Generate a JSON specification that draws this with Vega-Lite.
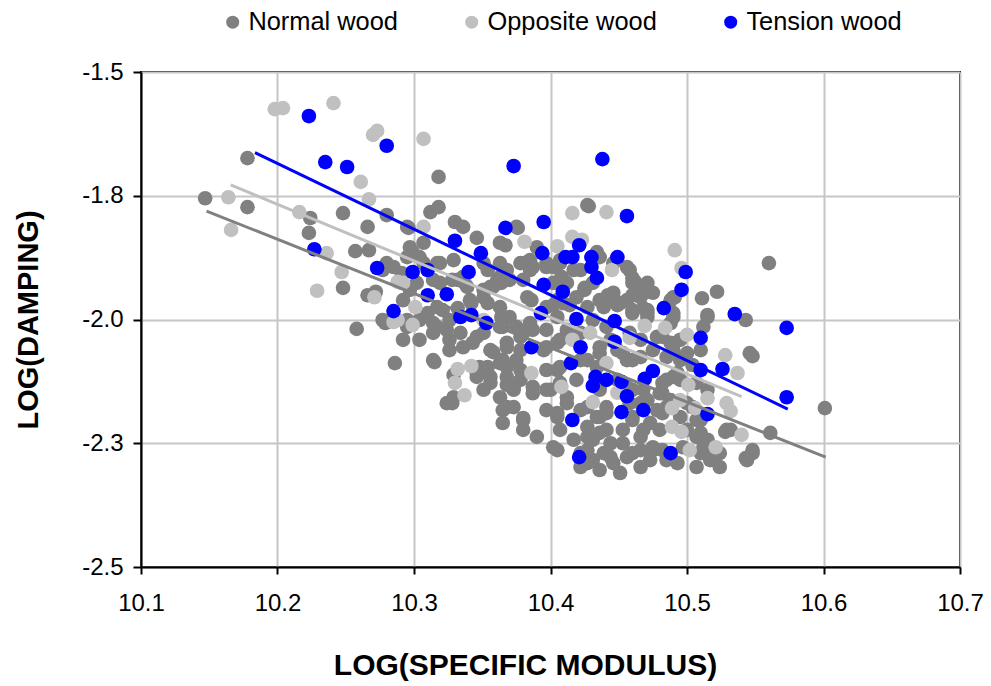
{
  "$schema": "https://vega.github.io/schema/vega-lite/v6.json",
  "width": 819,
  "height": 495,
  "autosize": {"type": "none"},
  "padding": {"left": 141, "top": 72, "right": 31, "bottom": 119},
  "background": "white",
  "config": {
    "font": "Liberation Sans",
    "view": {"stroke": "black", "strokeWidth": 2}
  },
  "datasets": {
    "points": [
      {"wood":"Normal wood","x":10.178,"y":-1.674},{"wood":"Normal wood","x":10.147,"y":-1.755},{"wood":"Normal wood","x":10.178,"y":-1.773},{"wood":"Normal wood","x":10.224,"y":-1.795},{"wood":"Normal wood","x":10.223,"y":-1.825},
      {"wood":"Normal wood","x":10.248,"y":-1.785},{"wood":"Normal wood","x":10.266,"y":-1.813},{"wood":"Normal wood","x":10.280,"y":-1.789},{"wood":"Normal wood","x":10.257,"y":-1.862},{"wood":"Normal wood","x":10.267,"y":-1.860},
      {"wood":"Normal wood","x":10.248,"y":-1.936},{"wood":"Normal wood","x":10.266,"y":-1.951},{"wood":"Normal wood","x":10.272,"y":-1.944},{"wood":"Normal wood","x":10.296,"y":-1.815},{"wood":"Normal wood","x":10.299,"y":-1.864},
      {"wood":"Normal wood","x":10.285,"y":-1.894},{"wood":"Normal wood","x":10.291,"y":-1.906},{"wood":"Normal wood","x":10.277,"y":-1.900},{"wood":"Normal wood","x":10.292,"y":-1.961},{"wood":"Normal wood","x":10.302,"y":-1.926},
      {"wood":"Normal wood","x":10.307,"y":-1.845},{"wood":"Normal wood","x":10.280,"y":-1.886},{"wood":"Normal wood","x":10.297,"y":-1.940},{"wood":"Normal wood","x":10.314,"y":-1.920},{"wood":"Normal wood","x":10.318,"y":-1.712},
      {"wood":"Normal wood","x":10.318,"y":-1.773},{"wood":"Normal wood","x":10.312,"y":-1.783},{"wood":"Normal wood","x":10.330,"y":-1.803},{"wood":"Normal wood","x":10.336,"y":-1.813},{"wood":"Normal wood","x":10.346,"y":-1.835},
      {"wood":"Normal wood","x":10.363,"y":-1.845},{"wood":"Normal wood","x":10.375,"y":-1.813},{"wood":"Normal wood","x":10.383,"y":-1.884},{"wood":"Normal wood","x":10.297,"y":-1.854},{"wood":"Normal wood","x":10.295,"y":-1.813},
      {"wood":"Normal wood","x":10.427,"y":-1.769},{"wood":"Normal wood","x":10.434,"y":-1.864},{"wood":"Normal wood","x":10.446,"y":-1.886},{"wood":"Normal wood","x":10.456,"y":-1.894},{"wood":"Normal wood","x":10.460,"y":-1.916},
      {"wood":"Normal wood","x":10.466,"y":-1.946},{"wood":"Normal wood","x":10.471,"y":-1.944},{"wood":"Normal wood","x":10.425,"y":-1.940},{"wood":"Normal wood","x":10.412,"y":-1.926},{"wood":"Normal wood","x":10.441,"y":-1.961},
      {"wood":"Normal wood","x":10.402,"y":-1.894},{"wood":"Normal wood","x":10.385,"y":-1.900},{"wood":"Normal wood","x":10.351,"y":-1.886},{"wood":"Normal wood","x":10.307,"y":-1.886},{"wood":"Normal wood","x":10.363,"y":-1.914},
      {"wood":"Normal wood","x":10.356,"y":-1.934},{"wood":"Normal wood","x":10.336,"y":-1.914},{"wood":"Normal wood","x":10.342,"y":-1.967},{"wood":"Normal wood","x":10.386,"y":-1.961},{"wood":"Normal wood","x":10.397,"y":-1.886},
      {"wood":"Normal wood","x":10.405,"y":-1.961},{"wood":"Normal wood","x":10.451,"y":-1.967},{"wood":"Normal wood","x":10.471,"y":-1.981},{"wood":"Normal wood","x":10.488,"y":-1.961},{"wood":"Normal wood","x":10.560,"y":-1.886},
      {"wood":"Normal wood","x":10.491,"y":-1.955},{"wood":"Normal wood","x":10.511,"y":-1.957},{"wood":"Normal wood","x":10.522,"y":-1.944},{"wood":"Normal wood","x":10.515,"y":-1.991},{"wood":"Normal wood","x":10.543,"y":-2.001},
      {"wood":"Normal wood","x":10.319,"y":-1.886},{"wood":"Normal wood","x":10.328,"y":-1.920},{"wood":"Normal wood","x":10.337,"y":-1.926},{"wood":"Normal wood","x":10.351,"y":-1.940},{"wood":"Normal wood","x":10.361,"y":-1.920},
      {"wood":"Normal wood","x":10.341,"y":-1.961},{"wood":"Normal wood","x":10.354,"y":-1.967},{"wood":"Normal wood","x":10.363,"y":-1.975},{"wood":"Normal wood","x":10.258,"y":-2.019},{"wood":"Normal wood","x":10.277,"y":-2.001},
      {"wood":"Normal wood","x":10.295,"y":-2.001},{"wood":"Normal wood","x":10.314,"y":-2.007},{"wood":"Normal wood","x":10.326,"y":-2.001},{"wood":"Normal wood","x":10.317,"y":-1.975},{"wood":"Normal wood","x":10.332,"y":-1.977},
      {"wood":"Normal wood","x":10.310,"y":-1.987},{"wood":"Normal wood","x":10.365,"y":-2.015},{"wood":"Normal wood","x":10.286,"y":-2.088},{"wood":"Normal wood","x":10.279,"y":-2.007},{"wood":"Normal wood","x":10.304,"y":-2.041},
      {"wood":"Normal wood","x":10.315,"y":-2.086},{"wood":"Normal wood","x":10.329,"y":-2.112},{"wood":"Normal wood","x":10.328,"y":-2.169},{"wood":"Normal wood","x":10.317,"y":-2.015},{"wood":"Normal wood","x":10.326,"y":-2.041},
      {"wood":"Normal wood","x":10.336,"y":-2.056},{"wood":"Normal wood","x":10.346,"y":-2.035},{"wood":"Normal wood","x":10.348,"y":-2.096},{"wood":"Normal wood","x":10.356,"y":-2.116},{"wood":"Normal wood","x":10.365,"y":-2.082},
      {"wood":"Normal wood","x":10.365,"y":-2.183},{"wood":"Normal wood","x":10.358,"y":-2.066},{"wood":"Normal wood","x":10.346,"y":-2.108},{"wood":"Normal wood","x":10.368,"y":-2.132},
      {"wood":"Normal wood","x":10.295,"y":-1.874},{"wood":"Normal wood","x":10.304,"y":-1.874},{"wood":"Normal wood","x":10.317,"y":-1.886},{"wood":"Normal wood","x":10.329,"y":-1.880},{"wood":"Normal wood","x":10.291,"y":-1.926},
      {"wood":"Normal wood","x":10.319,"y":-1.926},{"wood":"Normal wood","x":10.332,"y":-1.920},{"wood":"Normal wood","x":10.339,"y":-1.934},{"wood":"Normal wood","x":10.354,"y":-1.900},{"wood":"Normal wood","x":10.363,"y":-1.886},
      {"wood":"Normal wood","x":10.370,"y":-1.920},{"wood":"Normal wood","x":10.358,"y":-1.934},{"wood":"Normal wood","x":10.351,"y":-1.955},{"wood":"Normal wood","x":10.378,"y":-1.886},{"wood":"Normal wood","x":10.387,"y":-1.894},
      {"wood":"Normal wood","x":10.383,"y":-1.955},{"wood":"Normal wood","x":10.370,"y":-1.995},{"wood":"Normal wood","x":10.363,"y":-2.015},{"wood":"Normal wood","x":10.351,"y":-2.027},{"wood":"Normal wood","x":10.343,"y":-2.047},
      {"wood":"Normal wood","x":10.334,"y":-2.027},{"wood":"Normal wood","x":10.324,"y":-2.021},{"wood":"Normal wood","x":10.314,"y":-2.027},{"wood":"Normal wood","x":10.304,"y":-2.001},{"wood":"Normal wood","x":10.321,"y":-1.981},
      {"wood":"Normal wood","x":10.295,"y":-2.015},{"wood":"Normal wood","x":10.292,"y":-2.041},{"wood":"Normal wood","x":10.314,"y":-2.082},{"wood":"Normal wood","x":10.326,"y":-2.062},{"wood":"Normal wood","x":10.356,"y":-2.062},
      {"wood":"Normal wood","x":10.368,"y":-2.047},{"wood":"Normal wood","x":10.378,"y":-2.035},{"wood":"Normal wood","x":10.387,"y":-2.021},{"wood":"Normal wood","x":10.397,"y":-2.021},{"wood":"Normal wood","x":10.405,"y":-2.047},
      {"wood":"Normal wood","x":10.395,"y":-2.062},{"wood":"Normal wood","x":10.375,"y":-2.082},{"wood":"Normal wood","x":10.363,"y":-2.088},{"wood":"Normal wood","x":10.354,"y":-2.096},{"wood":"Normal wood","x":10.346,"y":-2.116},
      {"wood":"Normal wood","x":10.356,"y":-2.128},{"wood":"Normal wood","x":10.368,"y":-2.116},{"wood":"Normal wood","x":10.378,"y":-2.122},{"wood":"Normal wood","x":10.373,"y":-2.142},{"wood":"Normal wood","x":10.363,"y":-2.157},
      {"wood":"Normal wood","x":10.351,"y":-2.142},{"wood":"Normal wood","x":10.329,"y":-2.157},{"wood":"Normal wood","x":10.324,"y":-2.169},{"wood":"Normal wood","x":10.373,"y":-2.177},{"wood":"Normal wood","x":10.380,"y":-2.199},
      {"wood":"Normal wood","x":10.387,"y":-2.149},{"wood":"Normal wood","x":10.397,"y":-2.142},{"wood":"Normal wood","x":10.407,"y":-2.128},{"wood":"Normal wood","x":10.405,"y":-2.102},{"wood":"Normal wood","x":10.412,"y":-2.169},
      {"wood":"Normal wood","x":10.405,"y":-2.197},{"wood":"Normal wood","x":10.407,"y":-2.223},{"wood":"Normal wood","x":10.405,"y":-2.264},{"wood":"Normal wood","x":10.417,"y":-2.243},{"wood":"Normal wood","x":10.427,"y":-2.237},
      {"wood":"Normal wood","x":10.436,"y":-2.229},{"wood":"Normal wood","x":10.427,"y":-2.264},{"wood":"Normal wood","x":10.439,"y":-2.270},{"wood":"Normal wood","x":10.427,"y":-2.290},{"wood":"Normal wood","x":10.446,"y":-2.290},
      {"wood":"Normal wood","x":10.456,"y":-2.278},{"wood":"Normal wood","x":10.453,"y":-2.250},{"wood":"Normal wood","x":10.466,"y":-2.264},{"wood":"Normal wood","x":10.475,"y":-2.264},{"wood":"Normal wood","x":10.468,"y":-2.223},
      {"wood":"Normal wood","x":10.480,"y":-2.223},{"wood":"Normal wood","x":10.460,"y":-2.197},{"wood":"Normal wood","x":10.441,"y":-2.189},{"wood":"Normal wood","x":10.434,"y":-2.197},{"wood":"Normal wood","x":10.427,"y":-2.177},
      {"wood":"Normal wood","x":10.441,"y":-2.177},{"wood":"Normal wood","x":10.436,"y":-2.142},{"wood":"Normal wood","x":10.460,"y":-2.142},{"wood":"Normal wood","x":10.466,"y":-2.169},{"wood":"Normal wood","x":10.480,"y":-2.149},
      {"wood":"Normal wood","x":10.485,"y":-2.177},{"wood":"Normal wood","x":10.490,"y":-2.116},{"wood":"Normal wood","x":10.485,"y":-2.076},{"wood":"Normal wood","x":10.475,"y":-2.062},{"wood":"Normal wood","x":10.466,"y":-2.076},
      {"wood":"Normal wood","x":10.456,"y":-2.082},{"wood":"Normal wood","x":10.449,"y":-2.062},{"wood":"Normal wood","x":10.436,"y":-2.056},{"wood":"Normal wood","x":10.427,"y":-2.082},{"wood":"Normal wood","x":10.441,"y":-2.015},
      {"wood":"Normal wood","x":10.431,"y":-2.001},{"wood":"Normal wood","x":10.427,"y":-1.975},{"wood":"Normal wood","x":10.436,"y":-1.961},{"wood":"Normal wood","x":10.446,"y":-1.946},{"wood":"Normal wood","x":10.456,"y":-1.961},
      {"wood":"Normal wood","x":10.466,"y":-1.955},{"wood":"Normal wood","x":10.460,"y":-1.926},{"wood":"Normal wood","x":10.471,"y":-1.995},{"wood":"Normal wood","x":10.482,"y":-2.035},{"wood":"Normal wood","x":10.490,"y":-1.995},
      {"wood":"Normal wood","x":10.419,"y":-1.955},{"wood":"Normal wood","x":10.409,"y":-1.967},{"wood":"Normal wood","x":10.405,"y":-1.995},{"wood":"Normal wood","x":10.412,"y":-2.021},{"wood":"Normal wood","x":10.422,"y":-2.027},
      {"wood":"Normal wood","x":10.402,"y":-1.926},{"wood":"Normal wood","x":10.407,"y":-1.880},{"wood":"Normal wood","x":10.422,"y":-1.900},{"wood":"Normal wood","x":10.431,"y":-1.926},{"wood":"Normal wood","x":10.458,"y":-1.900},
      {"wood":"Normal wood","x":10.471,"y":-1.926},{"wood":"Normal wood","x":10.475,"y":-1.946},{"wood":"Normal wood","x":10.460,"y":-1.987},{"wood":"Normal wood","x":10.458,"y":-2.027},{"wood":"Normal wood","x":10.397,"y":-1.975},
      {"wood":"Normal wood","x":10.380,"y":-2.027},{"wood":"Normal wood","x":10.365,"y":-2.209},{"wood":"Normal wood","x":10.402,"y":-2.258},{"wood":"Normal wood","x":10.466,"y":-2.298},{"wood":"Normal wood","x":10.451,"y":-2.310},
      {"wood":"Normal wood","x":10.436,"y":-2.304},{"wood":"Normal wood","x":10.422,"y":-2.298},
      {"wood":"Normal wood","x":10.368,"y":-2.056},{"wood":"Normal wood","x":10.378,"y":-2.062},{"wood":"Normal wood","x":10.397,"y":-2.056},{"wood":"Normal wood","x":10.407,"y":-2.041},{"wood":"Normal wood","x":10.368,"y":-2.096},
      {"wood":"Normal wood","x":10.378,"y":-2.102},{"wood":"Normal wood","x":10.397,"y":-2.102},{"wood":"Normal wood","x":10.407,"y":-2.096},{"wood":"Normal wood","x":10.373,"y":-2.136},{"wood":"Normal wood","x":10.387,"y":-2.136},
      {"wood":"Normal wood","x":10.400,"y":-2.142},{"wood":"Normal wood","x":10.412,"y":-2.157},{"wood":"Normal wood","x":10.368,"y":-2.177},{"wood":"Normal wood","x":10.380,"y":-2.203},{"wood":"Normal wood","x":10.405,"y":-2.189},
      {"wood":"Normal wood","x":10.422,"y":-2.183},{"wood":"Normal wood","x":10.427,"y":-2.217},{"wood":"Normal wood","x":10.436,"y":-2.197},{"wood":"Normal wood","x":10.441,"y":-2.223},{"wood":"Normal wood","x":10.431,"y":-2.243},
      {"wood":"Normal wood","x":10.444,"y":-2.250},{"wood":"Normal wood","x":10.453,"y":-2.223},{"wood":"Normal wood","x":10.460,"y":-2.203},{"wood":"Normal wood","x":10.466,"y":-2.237},{"wood":"Normal wood","x":10.473,"y":-2.209},
      {"wood":"Normal wood","x":10.478,"y":-2.183},{"wood":"Normal wood","x":10.475,"y":-2.258},{"wood":"Normal wood","x":10.460,"y":-2.270},{"wood":"Normal wood","x":10.444,"y":-2.278},{"wood":"Normal wood","x":10.431,"y":-2.284},
      {"wood":"Normal wood","x":10.422,"y":-2.270},{"wood":"Normal wood","x":10.458,"y":-2.169},{"wood":"Normal wood","x":10.471,"y":-2.163},{"wood":"Normal wood","x":10.482,"y":-2.149},{"wood":"Normal wood","x":10.485,"y":-2.122},
      {"wood":"Normal wood","x":10.493,"y":-2.108},{"wood":"Normal wood","x":10.495,"y":-2.082},{"wood":"Normal wood","x":10.490,"y":-2.062},{"wood":"Normal wood","x":10.495,"y":-2.041},{"wood":"Normal wood","x":10.478,"y":-2.035},
      {"wood":"Normal wood","x":10.466,"y":-2.041},{"wood":"Normal wood","x":10.460,"y":-2.082},{"wood":"Normal wood","x":10.453,"y":-2.068},{"wood":"Normal wood","x":10.444,"y":-2.041},{"wood":"Normal wood","x":10.436,"y":-2.068},
      {"wood":"Normal wood","x":10.434,"y":-2.096},{"wood":"Normal wood","x":10.422,"y":-2.082},{"wood":"Normal wood","x":10.419,"y":-2.122},{"wood":"Normal wood","x":10.436,"y":-2.136},{"wood":"Normal wood","x":10.449,"y":-2.122},
      {"wood":"Normal wood","x":10.456,"y":-2.136},{"wood":"Normal wood","x":10.468,"y":-2.142},{"wood":"Normal wood","x":10.500,"y":-2.169},{"wood":"Normal wood","x":10.507,"y":-2.203},{"wood":"Normal wood","x":10.510,"y":-2.229},
      {"wood":"Normal wood","x":10.500,"y":-2.223},{"wood":"Normal wood","x":10.497,"y":-2.258},{"wood":"Normal wood","x":10.510,"y":-2.270},{"wood":"Normal wood","x":10.517,"y":-2.284},{"wood":"Normal wood","x":10.524,"y":-2.298},
      {"wood":"Normal wood","x":10.548,"y":-2.270},{"wood":"Normal wood","x":10.544,"y":-2.284},{"wood":"Normal wood","x":10.532,"y":-2.223},{"wood":"Normal wood","x":10.515,"y":-2.243},{"wood":"Normal wood","x":10.524,"y":-2.270},
      {"wood":"Normal wood","x":10.507,"y":-2.298},{"wood":"Normal wood","x":10.485,"y":-2.284},{"wood":"Normal wood","x":10.473,"y":-2.284},{"wood":"Normal wood","x":10.546,"y":-2.068},{"wood":"Normal wood","x":10.529,"y":-2.223},
      {"wood":"Normal wood","x":10.561,"y":-2.229},{"wood":"Normal wood","x":10.397,"y":-2.183},{"wood":"Normal wood","x":10.380,"y":-2.223},{"wood":"Normal wood","x":10.390,"y":-2.237},
      {"wood":"Normal wood","x":10.515,"y":-1.995},{"wood":"Normal wood","x":10.512,"y":-2.015},{"wood":"Normal wood","x":10.488,"y":-2.007},{"wood":"Normal wood","x":10.488,"y":-2.047},{"wood":"Normal wood","x":10.500,"y":-2.068},
      {"wood":"Normal wood","x":10.510,"y":-2.062},{"wood":"Normal wood","x":10.504,"y":-2.092},{"wood":"Normal wood","x":10.548,"y":-2.074},{"wood":"Normal wood","x":10.495,"y":-2.122},{"wood":"Normal wood","x":10.482,"y":-2.128},
      {"wood":"Normal wood","x":10.507,"y":-2.128},{"wood":"Normal wood","x":10.515,"y":-2.142},{"wood":"Normal wood","x":10.488,"y":-2.163},{"wood":"Normal wood","x":10.504,"y":-2.177},{"wood":"Normal wood","x":10.495,"y":-2.197},
      {"wood":"Normal wood","x":10.510,"y":-2.203},{"wood":"Normal wood","x":10.482,"y":-2.189},{"wood":"Normal wood","x":10.507,"y":-2.237},{"wood":"Normal wood","x":10.512,"y":-2.258},{"wood":"Normal wood","x":10.528,"y":-2.227},
      {"wood":"Normal wood","x":10.519,"y":-2.278},{"wood":"Normal wood","x":10.548,"y":-2.264},{"wood":"Normal wood","x":10.543,"y":-2.280},{"wood":"Normal wood","x":10.601,"y":-2.179},{"wood":"Normal wood","x":10.493,"y":-2.290},
      {"wood":"Normal wood","x":10.482,"y":-2.264},
      {"wood":"Normal wood","x":10.428,"y":-1.771},{"wood":"Normal wood","x":10.376,"y":-1.815},{"wood":"Normal wood","x":10.367,"y":-1.850},{"wood":"Normal wood","x":10.390,"y":-1.854},{"wood":"Normal wood","x":10.385,"y":-1.880},
      {"wood":"Normal wood","x":10.397,"y":-1.894},{"wood":"Normal wood","x":10.407,"y":-1.886},{"wood":"Normal wood","x":10.408,"y":-1.914},{"wood":"Normal wood","x":10.417,"y":-1.900},{"wood":"Normal wood","x":10.425,"y":-1.936},
      {"wood":"Normal wood","x":10.436,"y":-1.874},{"wood":"Normal wood","x":10.462,"y":-1.924},{"wood":"Normal wood","x":10.460,"y":-1.951},{"wood":"Normal wood","x":10.460,"y":-1.981},{"wood":"Normal wood","x":10.468,"y":-1.977},
      {"wood":"Normal wood","x":10.442,"y":-1.951},{"wood":"Normal wood","x":10.439,"y":-1.975},{"wood":"Normal wood","x":10.449,"y":-1.971},{"wood":"Normal wood","x":10.414,"y":-1.971},{"wood":"Normal wood","x":10.402,"y":-1.971},
      {"wood":"Normal wood","x":10.490,"y":-1.955},{"wood":"Normal wood","x":10.490,"y":-1.987},{"wood":"Normal wood","x":10.471,"y":-1.987},{"wood":"Normal wood","x":10.364,"y":-1.995},{"wood":"Normal wood","x":10.375,"y":-2.015},
      {"wood":"Normal wood","x":10.385,"y":-2.007},{"wood":"Normal wood","x":10.364,"y":-1.926},{"wood":"Normal wood","x":10.380,"y":-1.920},{"wood":"Normal wood","x":10.368,"y":-1.900},
      {"wood":"Opposite wood","x":10.198,"y":-1.575},{"wood":"Opposite wood","x":10.204,"y":-1.573},{"wood":"Opposite wood","x":10.241,"y":-1.563},{"wood":"Opposite wood","x":10.270,"y":-1.627},{"wood":"Opposite wood","x":10.273,"y":-1.619},
      {"wood":"Opposite wood","x":10.261,"y":-1.722},{"wood":"Opposite wood","x":10.267,"y":-1.757},{"wood":"Opposite wood","x":10.164,"y":-1.753},{"wood":"Opposite wood","x":10.166,"y":-1.819},{"wood":"Opposite wood","x":10.216,"y":-1.783},
      {"wood":"Opposite wood","x":10.236,"y":-1.866},{"wood":"Opposite wood","x":10.247,"y":-1.904},{"wood":"Opposite wood","x":10.229,"y":-1.942},{"wood":"Opposite wood","x":10.271,"y":-1.955},{"wood":"Opposite wood","x":10.288,"y":-1.924},
      {"wood":"Opposite wood","x":10.292,"y":-1.926},{"wood":"Opposite wood","x":10.307,"y":-1.635},{"wood":"Opposite wood","x":10.307,"y":-1.813},{"wood":"Opposite wood","x":10.301,"y":-1.975},{"wood":"Opposite wood","x":10.299,"y":-2.011},
      {"wood":"Opposite wood","x":10.288,"y":-2.001},{"wood":"Opposite wood","x":10.351,"y":-2.001},{"wood":"Opposite wood","x":10.416,"y":-1.785},{"wood":"Opposite wood","x":10.441,"y":-1.783},{"wood":"Opposite wood","x":10.381,"y":-1.843},
      {"wood":"Opposite wood","x":10.405,"y":-1.852},{"wood":"Opposite wood","x":10.416,"y":-1.833},{"wood":"Opposite wood","x":10.423,"y":-1.839},{"wood":"Opposite wood","x":10.445,"y":-1.900},{"wood":"Opposite wood","x":10.491,"y":-1.860},
      {"wood":"Opposite wood","x":10.496,"y":-1.896},{"wood":"Opposite wood","x":10.469,"y":-2.013},{"wood":"Opposite wood","x":10.484,"y":-2.017},{"wood":"Opposite wood","x":10.332,"y":-2.100},{"wood":"Opposite wood","x":10.342,"y":-2.094},
      {"wood":"Opposite wood","x":10.330,"y":-2.128},{"wood":"Opposite wood","x":10.337,"y":-2.153},{"wood":"Opposite wood","x":10.285,"y":-2.005},{"wood":"Opposite wood","x":10.386,"y":-2.108},{"wood":"Opposite wood","x":10.408,"y":-2.136},
      {"wood":"Opposite wood","x":10.431,"y":-2.167},{"wood":"Opposite wood","x":10.429,"y":-2.027},{"wood":"Opposite wood","x":10.416,"y":-2.041},{"wood":"Opposite wood","x":10.441,"y":-2.088},{"wood":"Opposite wood","x":10.449,"y":-2.148},
      {"wood":"Opposite wood","x":10.458,"y":-2.037},{"wood":"Opposite wood","x":10.500,"y":-2.031},{"wood":"Opposite wood","x":10.489,"y":-2.217},{"wood":"Opposite wood","x":10.496,"y":-2.227},{"wood":"Opposite wood","x":10.502,"y":-2.264},
      {"wood":"Opposite wood","x":10.521,"y":-2.258},{"wood":"Opposite wood","x":10.528,"y":-2.072},{"wood":"Opposite wood","x":10.537,"y":-2.108},{"wood":"Opposite wood","x":10.515,"y":-2.159},{"wood":"Opposite wood","x":10.529,"y":-2.169},
      {"wood":"Opposite wood","x":10.532,"y":-2.185},{"wood":"Opposite wood","x":10.540,"y":-2.233},{"wood":"Opposite wood","x":10.501,"y":-2.132},{"wood":"Opposite wood","x":10.495,"y":-2.163},{"wood":"Opposite wood","x":10.506,"y":-2.179},
      {"wood":"Opposite wood","x":10.489,"y":-2.179},
      {"wood":"Tension wood","x":10.223,"y":-1.589},{"wood":"Tension wood","x":10.235,"y":-1.682},{"wood":"Tension wood","x":10.251,"y":-1.692},{"wood":"Tension wood","x":10.280,"y":-1.649},{"wood":"Tension wood","x":10.373,"y":-1.690},
      {"wood":"Tension wood","x":10.438,"y":-1.676},{"wood":"Tension wood","x":10.227,"y":-1.858},{"wood":"Tension wood","x":10.273,"y":-1.896},{"wood":"Tension wood","x":10.285,"y":-1.983},{"wood":"Tension wood","x":10.299,"y":-1.904},
      {"wood":"Tension wood","x":10.310,"y":-1.900},{"wood":"Tension wood","x":10.310,"y":-1.951},{"wood":"Tension wood","x":10.324,"y":-1.949},{"wood":"Tension wood","x":10.330,"y":-1.841},{"wood":"Tension wood","x":10.349,"y":-1.866},
      {"wood":"Tension wood","x":10.340,"y":-1.904},{"wood":"Tension wood","x":10.334,"y":-1.995},{"wood":"Tension wood","x":10.342,"y":-1.991},{"wood":"Tension wood","x":10.353,"y":-2.007},{"wood":"Tension wood","x":10.367,"y":-1.815},
      {"wood":"Tension wood","x":10.395,"y":-1.803},{"wood":"Tension wood","x":10.456,"y":-1.791},{"wood":"Tension wood","x":10.394,"y":-1.866},{"wood":"Tension wood","x":10.411,"y":-1.874},{"wood":"Tension wood","x":10.416,"y":-1.874},
      {"wood":"Tension wood","x":10.421,"y":-1.850},{"wood":"Tension wood","x":10.430,"y":-1.874},{"wood":"Tension wood","x":10.430,"y":-1.894},{"wood":"Tension wood","x":10.434,"y":-1.916},{"wood":"Tension wood","x":10.449,"y":-1.874},
      {"wood":"Tension wood","x":10.395,"y":-1.930},{"wood":"Tension wood","x":10.409,"y":-1.944},{"wood":"Tension wood","x":10.393,"y":-1.987},{"wood":"Tension wood","x":10.419,"y":-1.999},{"wood":"Tension wood","x":10.447,"y":-2.003},
      {"wood":"Tension wood","x":10.386,"y":-2.056},{"wood":"Tension wood","x":10.422,"y":-2.056},{"wood":"Tension wood","x":10.447,"y":-2.045},{"wood":"Tension wood","x":10.415,"y":-2.088},{"wood":"Tension wood","x":10.433,"y":-2.116},
      {"wood":"Tension wood","x":10.431,"y":-2.134},{"wood":"Tension wood","x":10.441,"y":-2.122},{"wood":"Tension wood","x":10.452,"y":-2.126},{"wood":"Tension wood","x":10.475,"y":-2.104},{"wood":"Tension wood","x":10.469,"y":-2.120},
      {"wood":"Tension wood","x":10.456,"y":-2.155},{"wood":"Tension wood","x":10.452,"y":-2.187},{"wood":"Tension wood","x":10.468,"y":-2.183},{"wood":"Tension wood","x":10.416,"y":-2.203},{"wood":"Tension wood","x":10.421,"y":-2.278},
      {"wood":"Tension wood","x":10.488,"y":-2.270},{"wood":"Tension wood","x":10.483,"y":-1.977},{"wood":"Tension wood","x":10.496,"y":-1.940},{"wood":"Tension wood","x":10.499,"y":-1.904},{"wood":"Tension wood","x":10.535,"y":-1.989},
      {"wood":"Tension wood","x":10.573,"y":-2.017},{"wood":"Tension wood","x":10.510,"y":-2.037},{"wood":"Tension wood","x":10.510,"y":-2.102},{"wood":"Tension wood","x":10.526,"y":-2.100},{"wood":"Tension wood","x":10.573,"y":-2.157},
      {"wood":"Tension wood","x":10.515,"y":-2.191}
    ],
    "trend": [
      {"wood":"Normal wood","x":10.148,"y":-1.781},{"wood":"Normal wood","x":10.6016,"y":-2.278},
      {"wood":"Opposite wood","x":10.1657,"y":-1.728},{"wood":"Opposite wood","x":10.540,"y":-2.156},
      {"wood":"Tension wood","x":10.1835,"y":-1.663},{"wood":"Tension wood","x":10.5738,"y":-2.181}
    ]
  },
  "layer": [
    {
      "data": {"name": "points"},
      "mark": {"type": "circle", "size": 215, "opacity": 1, "strokeWidth": 0},
      "encoding": {
        "x": {
          "field": "x", "type": "quantitative",
          "scale": {"domain": [10.1, 10.7], "nice": false, "zero": false},
          "axis": {
            "values": [10.1, 10.2, 10.3, 10.4, 10.5, 10.6, 10.7],
            "format": ".1f",
            "labelFlush": false, "labelOverlap": false,
            "title": "LOG(SPECIFIC MODULUS)",
            "titleFont": "Liberation Sans", "titleFontSize": 30, "titleFontWeight": "bold", "titleColor": "black",
            "titleX": 384, "titleY": 98, "titleAlign": "center", "titleBaseline": "middle",
            "labelFont": "Liberation Sans", "labelFontSize": 24, "labelColor": "black", "labelPadding": 17,
            "tickSize": 7, "tickColor": "black", "tickWidth": 2,
            "domainColor": "black", "domainWidth": 2,
            "grid": true, "gridColor": "#c6c6c6", "gridWidth": 2
          }
        },
        "y": {
          "field": "y", "type": "quantitative",
          "scale": {"domain": [-2.5, -1.5], "nice": false, "zero": false},
          "axis": {
            "values": [-1.5, -1.75, -2.0, -2.25, -2.5],
            "labelExpr": "'-' + format(-datum.value, '.1f')",
            "labelFlush": false, "labelOverlap": false,
            "title": "LOG(DAMPING)",
            "titleFont": "Liberation Sans", "titleFontSize": 29, "titleFontWeight": "bold", "titleColor": "black",
            "titleX": -113, "titleY": 247.5, "titleAngle": 270, "titleAlign": "center", "titleBaseline": "middle",
            "labelFont": "Liberation Sans", "labelFontSize": 24, "labelColor": "black", "labelPadding": 10,
            "tickSize": 8, "tickColor": "black", "tickWidth": 2,
            "domainColor": "black", "domainWidth": 2,
            "grid": true, "gridColor": "#c6c6c6", "gridWidth": 2
          }
        },
        "color": {
          "field": "wood", "type": "nominal",
          "scale": {"domain": ["Normal wood", "Opposite wood", "Tension wood"], "range": ["#808080", "#c0c0c0", "#0000ff"]},
          "legend": {
            "title": null, "orient": "none", "direction": "horizontal",
            "legendX": 79, "legendY": -63, "padding": 0,
            "labelFont": "Liberation Sans", "labelFontSize": 25.4, "labelColor": "black", "labelLimit": 0,
            "symbolType": "circle", "symbolSize": 170, "symbolStrokeWidth": 0,
            "labelOffset": 3, "columnPadding": 61
          }
        }
      }
    },
    {
      "data": {"name": "trend"},
      "mark": {"type": "line", "strokeWidth": 3},
      "encoding": {
        "x": {"field": "x", "type": "quantitative"},
        "y": {"field": "y", "type": "quantitative"},
        "stroke": {
          "field": "wood", "type": "nominal",
          "scale": {"domain": ["Normal wood", "Opposite wood", "Tension wood"], "range": ["#808080", "#c0c0c0", "#0000ff"]},
          "legend": null
        }
      }
    }
  ]
}
